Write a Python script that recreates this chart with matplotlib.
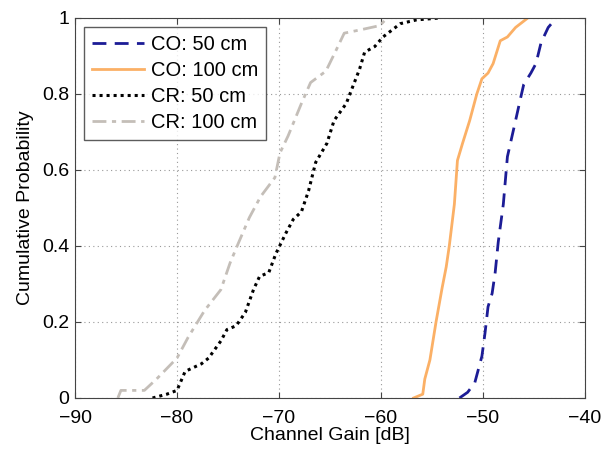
import matplotlib.pyplot as plt

plt.rcParams["font.family"] = ["Liberation Sans", "DejaVu Sans"]

co50_x = [-52.3, -51.5, -50.8, -50.1, -49.8, -49.5, -49.1, -48.8, -48.5, -48.0,
          -47.6, -46.8, -46.3, -46.0, -45.3, -44.8, -44.3, -43.6, -42.8]
co50_y = [0.0, 0.015, 0.04, 0.11, 0.17, 0.24, 0.275, 0.33, 0.41, 0.51,
          0.635, 0.73, 0.79, 0.825, 0.855, 0.88, 0.935, 0.975, 1.0]

co100_x = [-56.8, -55.9, -55.7, -55.2, -54.6, -54.0, -53.6, -53.3, -52.8,
           -52.5, -52.0, -51.3, -50.6, -50.1, -49.5, -49.0, -48.3, -47.6, -46.8, -45.6]
co100_y = [0.0, 0.01, 0.05, 0.10, 0.20, 0.29, 0.345, 0.40, 0.51,
           0.625, 0.67, 0.73, 0.80, 0.84, 0.855, 0.88, 0.94, 0.95, 0.975, 1.0]

cr50_x = [-82.4, -81.0, -80.0, -79.2, -77.6, -76.9, -75.7, -75.1, -74.2, -73.3,
          -72.5, -71.9, -71.0, -70.3, -69.3, -68.6, -67.8, -67.1, -66.4, -65.3,
          -64.6, -63.4, -62.9, -62.1, -61.6, -60.6, -59.8, -58.1, -56.5, -54.2]
cr50_y = [0.0, 0.01, 0.02, 0.07, 0.09, 0.105, 0.15, 0.18, 0.19, 0.225,
          0.285, 0.32, 0.33, 0.38, 0.435, 0.47, 0.49, 0.545, 0.62, 0.67,
          0.73, 0.775, 0.81, 0.865, 0.91, 0.925, 0.95, 0.985, 0.995, 1.0]

cr100_x = [-85.8, -85.5, -83.2, -82.0, -80.0, -78.9, -77.3, -75.7, -74.8, -74.1,
           -72.9, -71.8, -70.4, -69.9, -69.1, -67.8, -66.9, -65.4, -64.4, -63.6,
           -61.8, -60.1, -59.4]
cr100_y = [0.0, 0.02, 0.02, 0.05, 0.105, 0.16, 0.23, 0.285, 0.355, 0.40,
           0.475, 0.53, 0.58, 0.645, 0.69, 0.775, 0.83, 0.86, 0.915, 0.96,
           0.97, 0.98, 1.0]

fig = plt.figure(figsize=(6.03, 4.49), dpi=100)
ax = fig.add_axes([0.1244, 0.1136, 0.8456, 0.8464])

ax.plot(co50_x, co50_y, color="#1c1c96", linestyle=(0, (5, 3)), linewidth=2.0, label="CO: 50 cm")
ax.plot(co100_x, co100_y, color="#fbb066", linestyle="-", linewidth=2.0, label="CO: 100 cm")
ax.plot(cr50_x, cr50_y, color="black", linestyle=(0, (1, 1.3)), linewidth=2.2, label="CR: 50 cm")
ax.plot(cr100_x, cr100_y, color="#c4beb8", linestyle=(0, (5, 2, 1.5, 2)), linewidth=2.0, label="CR: 100 cm")

ax.set_xlim(-90, -40)
ax.set_ylim(0, 1)
ax.set_xticks([-90, -80, -70, -60, -50, -40])
ax.set_xticklabels(["\u221290", "\u221280", "\u221270", "\u221260", "\u221250", "\u221240"])
ax.set_yticks([0, 0.2, 0.4, 0.6, 0.8, 1])
ax.set_yticklabels(["0", "0.2", "0.4", "0.6", "0.8", "1"])
ax.tick_params(direction="in", top=True, right=True, labelsize=14, length=4, color="#444444")
ax.tick_params(axis="x", pad=9)
ax.tick_params(axis="y", pad=4)
ax.grid(True, linestyle=(0, (1, 3)), color="#999999", linewidth=0.8)
for s in ax.spines.values():
    s.set_color("#444444")

ax.set_xlabel("Channel Gain [dB]", fontsize=14, labelpad=0)
ax.set_ylabel("Cumulative Probability", fontsize=14, labelpad=6)

leg = ax.legend(loc="upper left", fontsize=14.5, handlelength=2.6, frameon=True, fancybox=False,
                borderpad=0.4, labelspacing=0.35, handletextpad=0.3, borderaxespad=0.45)
leg.get_frame().set_edgecolor("#333333")
leg.get_frame().set_linewidth(1.0)

plt.savefig("out.png", dpi=100, facecolor="white")
plt.close()
